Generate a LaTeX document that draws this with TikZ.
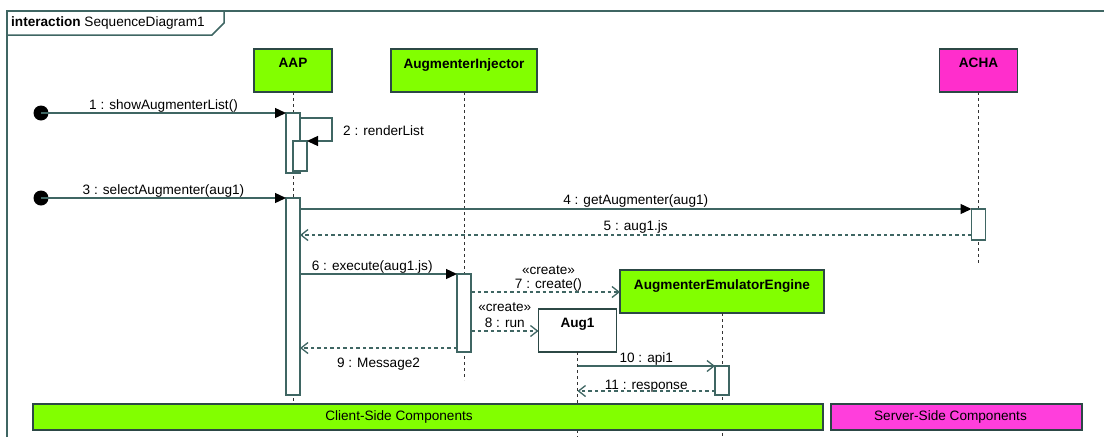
\documentclass[tikz,border=0pt]{standalone}
\usepackage{fontspec}
\setmainfont{Liberation Sans}
\usetikzlibrary{arrows.meta,calc}

\definecolor{wire}{HTML}{3F6663}
\definecolor{edge}{HTML}{2C4845}
\definecolor{limefill}{HTML}{82FF00}
\definecolor{pinkfill}{HTML}{FF2ECC}
\definecolor{pinkbar}{HTML}{FF3EDC}

\tikzset{
  txt/.style={font=\fontsize{13.6}{16}\selectfont},
  objbox/.style={draw=edge, line width=1.5pt, minimum height=43pt, inner sep=0pt, outer sep=0pt},
  objname/.style={font=\fontsize{13.6}{16}\selectfont\bfseries, anchor=north, inner sep=0pt, yshift=-9pt},
  lifeline/.style={draw=black!80, line width=0.8pt, dash pattern=on 3pt off 3pt},
  actbox/.style={draw=wire, line width=1.4pt, fill=white, minimum width=14pt, inner sep=0pt, outer sep=0pt, anchor=north},
  syncmsg/.style={draw=wire, line width=1.3pt, -{Triangle[length=11pt,width=10pt,fill=black,color=black]}},
  asyncmsg/.style={draw=wire, line width=1.3pt, -{Straight Barb[length=7pt,width=11pt]}},
  replymsg/.style={draw=wire, line width=1.3pt, dash pattern=on 3.5pt off 3pt, -{Straight Barb[length=7pt,width=11pt,sep=0pt]}},
  lab/.style={txt, anchor=base, inner sep=0pt},
  startdot/.style={circle, fill=black, minimum size=15pt, inner sep=0pt, outer sep=0pt},
  groupbar/.style={draw=edge, line width=1.5pt, minimum height=26pt, inner sep=0pt, outer sep=0pt, anchor=north west, txt}
}

\begin{document}
\begin{tikzpicture}[x=1pt,y=-1pt]
\useasboundingbox (0,0) rectangle (1104,437);

% interaction frame with its name tab
\draw[wire, line width=1.5pt] (7,437) -- (7,11) -- (1104,11);
\draw[wire, line width=1.5pt] (7,35) -- (212,35) -- (224,23) -- (224,11);
\node[txt, anchor=west, inner sep=0pt] (frametitle) at (11,23) {\textbf{interaction} SequenceDiagram1};

% lifeline heads
\node[objbox, fill=limefill, minimum width=78pt, anchor=north] (aap) at (293,49) {};
\node[objname] at (aap.north) {AAP};
\node[objbox, fill=limefill, minimum width=146pt, anchor=north] (inj) at (464,49) {};
\node[objname] at (inj.north) {AugmenterInjector};
\node[objbox, fill=pinkfill, minimum width=78pt, anchor=north] (acha) at (978.5,49) {};
\node[objname] at (acha.north) {ACHA};
\node[objbox, fill=limefill, minimum width=204pt, anchor=north] (aee) at (722,270) {};
\node[objname] at (aee.north) {AugmenterEmulatorEngine};
\node[objbox, fill=white, minimum width=78pt, anchor=north] (aug) at (577.5,309) {};
\node[objname] at (aug.north) {Aug1};

% lifeline ends
\coordinate (aapEnd) at (293,402);
\coordinate (injEnd) at (464,380);
\coordinate (achaEnd) at (978.5,264);
\coordinate (aeeEnd) at (722,437);
\coordinate (augEnd) at (577.5,437);

\draw[lifeline] (aap.south) -- (aapEnd);
\draw[lifeline] (inj.south) -- (injEnd);
\draw[lifeline] (acha.south) -- (achaEnd);
\draw[lifeline] (aee.south) -- (aeeEnd);
\draw[lifeline] (aug.south) -- (augEnd);

% activation bars
\node[actbox, minimum height=60pt] (aap1) at (293,113) {};
\node[actbox, minimum height=30pt] (aap2) at (300,141) {};
\node[actbox, minimum height=197pt] (aap3) at (293,198) {};
\node[actbox, minimum height=31pt] (acha1) at (978.5,209) {};
\node[actbox, minimum height=78pt] (inj1) at (464,274) {};
\node[actbox, minimum height=29pt] (aee1) at (722,366) {};

% found-message sources
\node[startdot] (s1) at (41,113) {};
\node[startdot] (s3) at (41,198) {};

% message levels
\coordinate (y2) at (0,118);
\coordinate (y5) at (0,235);
\coordinate (y7) at (0,292);
\coordinate (y8) at (0,331);
\coordinate (y9) at (0,348);
\coordinate (y11) at (0,391);
\coordinate (loop2) at (332,118);

% messages
\draw[syncmsg] (s1.center) -- (aap1.north west)
  node[lab, pos=.5, yshift=4pt] {1 : showAugmenterList()};
\draw[syncmsg] (aap1.east |- y2) -- (loop2) -- (loop2 |- aap2.north) -- (aap2.north east);
\node[lab, anchor=base west] (l2) at (343,135) {2 : renderList};
\draw[syncmsg] (s3.center) -- (aap3.north west)
  node[lab, pos=.5, yshift=4pt] {3 : selectAugmenter(aug1)};
\draw[syncmsg] (aap3.east |- acha1.north) -- (acha1.north west)
  node[lab, pos=.5, yshift=5pt] {4 : getAugmenter(aug1)};
\draw[replymsg] (acha1.west |- y5) -- (aap3.east |- y5)
  node[lab, pos=.5, yshift=5pt] {5 : aug1.js};
\draw[syncmsg] (aap3.east |- inj1.north) -- (inj1.north west)
  node[lab, pos=.46, yshift=4pt] {6 : execute(aug1.js)};
\draw[replymsg] (inj1.east |- y7) -- (aee.west |- y7)
  node[lab, pos=.52, yshift=4pt] {7 : create()}
  node[lab, pos=.52, yshift=18pt] {«create»};
\draw[replymsg] (inj1.east |- y8) -- (aug.west |- y8)
  node[lab, pos=.5, yshift=4pt] {8 : run}
  node[lab, pos=.5, yshift=20pt] {«create»};
\draw[replymsg] (inj1.west |- y9) -- (aap3.east |- y9)
  node[lab, pos=.5, yshift=-19pt] {9 : Message2};
\draw[asyncmsg] (aug.south |- aee1.north) -- (aee1.north west)
  node[lab, pos=.5, yshift=4pt] {10 : api1};
\draw[replymsg] (aee1.west |- y11) -- (aug.south |- y11)
  node[lab, pos=.5, yshift=2pt] {11 : response};

% deployment groups
\node[groupbar, fill=limefill, minimum width=790pt,
  label={[txt, xshift=-29pt]center:Client-Side Components}] (client) at (33,404) {};
\node[groupbar, fill=pinkbar, minimum width=251pt,
  label={[txt, xshift=-6pt]center:Server-Side Components}] (server) at (831,404) {};
\end{tikzpicture}
\end{document}
